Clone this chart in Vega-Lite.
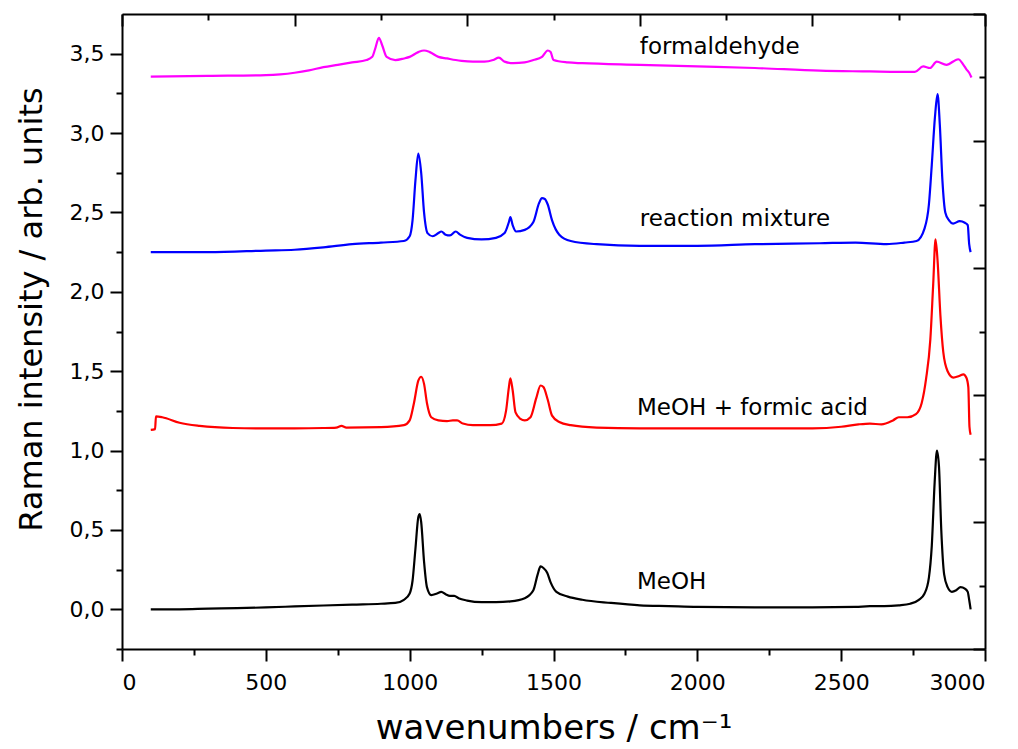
{
  "$schema": "https://vega.github.io/schema/vega-lite/v6.json",
  "width": 863,
  "height": 635,
  "autosize": {"type": "none"},
  "padding": {"left": 122, "top": 14, "right": 33, "bottom": 100},
  "background": "white",
  "config": {
    "view": {"stroke": null},
    "font": "DejaVu Sans",
    "axis": {"domainColor": "black", "tickColor": "black", "labelColor": "black", "titleColor": "black", "domainWidth": 2, "tickWidth": 2, "grid": false, "labelFont": "DejaVu Sans", "titleFont": "DejaVu Sans"}
  },
  "datasets": {
    "spectra": [
      {"s": "MeOH", "wn": 100, "v": 0.0}, {"s": "MeOH", "wn": 200, "v": 0.0}, {"s": "MeOH", "wn": 300, "v": 0.004}, {"s": "MeOH", "wn": 400, "v": 0.007}, {"s": "MeOH", "wn": 500, "v": 0.012}, {"s": "MeOH", "wn": 600, "v": 0.018}, {"s": "MeOH", "wn": 700, "v": 0.024}, {"s": "MeOH", "wn": 800, "v": 0.03}, {"s": "MeOH", "wn": 900, "v": 0.035}, {"s": "MeOH", "wn": 950, "v": 0.04}, {"s": "MeOH", "wn": 980, "v": 0.06}, {"s": "MeOH", "wn": 1000, "v": 0.1}, {"s": "MeOH", "wn": 1010, "v": 0.18}, {"s": "MeOH", "wn": 1020, "v": 0.38}, {"s": "MeOH", "wn": 1030, "v": 0.58}, {"s": "MeOH", "wn": 1035, "v": 0.6}, {"s": "MeOH", "wn": 1040, "v": 0.55}, {"s": "MeOH", "wn": 1050, "v": 0.3}, {"s": "MeOH", "wn": 1060, "v": 0.14}, {"s": "MeOH", "wn": 1075, "v": 0.09}, {"s": "MeOH", "wn": 1095, "v": 0.1}, {"s": "MeOH", "wn": 1110, "v": 0.11}, {"s": "MeOH", "wn": 1125, "v": 0.095}, {"s": "MeOH", "wn": 1140, "v": 0.085}, {"s": "MeOH", "wn": 1155, "v": 0.085}, {"s": "MeOH", "wn": 1170, "v": 0.07}, {"s": "MeOH", "wn": 1200, "v": 0.055}, {"s": "MeOH", "wn": 1250, "v": 0.045}, {"s": "MeOH", "wn": 1300, "v": 0.045}, {"s": "MeOH", "wn": 1350, "v": 0.05}, {"s": "MeOH", "wn": 1400, "v": 0.07}, {"s": "MeOH", "wn": 1430, "v": 0.12}, {"s": "MeOH", "wn": 1445, "v": 0.22}, {"s": "MeOH", "wn": 1455, "v": 0.27}, {"s": "MeOH", "wn": 1465, "v": 0.26}, {"s": "MeOH", "wn": 1478, "v": 0.23}, {"s": "MeOH", "wn": 1490, "v": 0.17}, {"s": "MeOH", "wn": 1510, "v": 0.11}, {"s": "MeOH", "wn": 1550, "v": 0.08}, {"s": "MeOH", "wn": 1600, "v": 0.06}, {"s": "MeOH", "wn": 1700, "v": 0.04}, {"s": "MeOH", "wn": 1800, "v": 0.025}, {"s": "MeOH", "wn": 1900, "v": 0.02}, {"s": "MeOH", "wn": 2000, "v": 0.015}, {"s": "MeOH", "wn": 2200, "v": 0.012}, {"s": "MeOH", "wn": 2400, "v": 0.012}, {"s": "MeOH", "wn": 2550, "v": 0.015}, {"s": "MeOH", "wn": 2600, "v": 0.02}, {"s": "MeOH", "wn": 2650, "v": 0.02}, {"s": "MeOH", "wn": 2700, "v": 0.025}, {"s": "MeOH", "wn": 2740, "v": 0.035}, {"s": "MeOH", "wn": 2770, "v": 0.06}, {"s": "MeOH", "wn": 2790, "v": 0.1}, {"s": "MeOH", "wn": 2805, "v": 0.2}, {"s": "MeOH", "wn": 2815, "v": 0.4}, {"s": "MeOH", "wn": 2825, "v": 0.8}, {"s": "MeOH", "wn": 2833, "v": 1.0}, {"s": "MeOH", "wn": 2840, "v": 0.9}, {"s": "MeOH", "wn": 2848, "v": 0.5}, {"s": "MeOH", "wn": 2858, "v": 0.22}, {"s": "MeOH", "wn": 2870, "v": 0.14}, {"s": "MeOH", "wn": 2885, "v": 0.11}, {"s": "MeOH", "wn": 2900, "v": 0.12}, {"s": "MeOH", "wn": 2915, "v": 0.14}, {"s": "MeOH", "wn": 2930, "v": 0.13}, {"s": "MeOH", "wn": 2940, "v": 0.11}, {"s": "MeOH", "wn": 2945, "v": 0.06}, {"s": "MeOH", "wn": 2950, "v": 0.0},

      {"s": "red", "wn": 100, "v": 1.13}, {"s": "red", "wn": 115, "v": 1.135}, {"s": "red", "wn": 118, "v": 1.215}, {"s": "red", "wn": 140, "v": 1.21}, {"s": "red", "wn": 200, "v": 1.175}, {"s": "red", "wn": 270, "v": 1.155}, {"s": "red", "wn": 385, "v": 1.142}, {"s": "red", "wn": 500, "v": 1.14}, {"s": "red", "wn": 600, "v": 1.14}, {"s": "red", "wn": 700, "v": 1.142}, {"s": "red", "wn": 745, "v": 1.145}, {"s": "red", "wn": 763, "v": 1.155}, {"s": "red", "wn": 780, "v": 1.145}, {"s": "red", "wn": 900, "v": 1.148}, {"s": "red", "wn": 980, "v": 1.16}, {"s": "red", "wn": 1000, "v": 1.19}, {"s": "red", "wn": 1015, "v": 1.3}, {"s": "red", "wn": 1030, "v": 1.44}, {"s": "red", "wn": 1040, "v": 1.465}, {"s": "red", "wn": 1050, "v": 1.42}, {"s": "red", "wn": 1060, "v": 1.3}, {"s": "red", "wn": 1075, "v": 1.21}, {"s": "red", "wn": 1100, "v": 1.19}, {"s": "red", "wn": 1130, "v": 1.185}, {"s": "red", "wn": 1150, "v": 1.19}, {"s": "red", "wn": 1165, "v": 1.19}, {"s": "red", "wn": 1185, "v": 1.17}, {"s": "red", "wn": 1220, "v": 1.16}, {"s": "red", "wn": 1280, "v": 1.16}, {"s": "red", "wn": 1320, "v": 1.17}, {"s": "red", "wn": 1335, "v": 1.25}, {"s": "red", "wn": 1345, "v": 1.4}, {"s": "red", "wn": 1350, "v": 1.455}, {"s": "red", "wn": 1358, "v": 1.38}, {"s": "red", "wn": 1368, "v": 1.24}, {"s": "red", "wn": 1385, "v": 1.2}, {"s": "red", "wn": 1400, "v": 1.19}, {"s": "red", "wn": 1420, "v": 1.21}, {"s": "red", "wn": 1440, "v": 1.33}, {"s": "red", "wn": 1455, "v": 1.41}, {"s": "red", "wn": 1465, "v": 1.4}, {"s": "red", "wn": 1480, "v": 1.32}, {"s": "red", "wn": 1495, "v": 1.22}, {"s": "red", "wn": 1520, "v": 1.18}, {"s": "red", "wn": 1560, "v": 1.16}, {"s": "red", "wn": 1650, "v": 1.145}, {"s": "red", "wn": 1800, "v": 1.14}, {"s": "red", "wn": 2000, "v": 1.14}, {"s": "red", "wn": 2200, "v": 1.14}, {"s": "red", "wn": 2400, "v": 1.14}, {"s": "red", "wn": 2500, "v": 1.15}, {"s": "red", "wn": 2560, "v": 1.165}, {"s": "red", "wn": 2600, "v": 1.17}, {"s": "red", "wn": 2640, "v": 1.165}, {"s": "red", "wn": 2680, "v": 1.19}, {"s": "red", "wn": 2700, "v": 1.21}, {"s": "red", "wn": 2730, "v": 1.21}, {"s": "red", "wn": 2760, "v": 1.23}, {"s": "red", "wn": 2780, "v": 1.3}, {"s": "red", "wn": 2795, "v": 1.45}, {"s": "red", "wn": 2810, "v": 1.7}, {"s": "red", "wn": 2820, "v": 2.05}, {"s": "red", "wn": 2828, "v": 2.33}, {"s": "red", "wn": 2835, "v": 2.2}, {"s": "red", "wn": 2845, "v": 1.85}, {"s": "red", "wn": 2855, "v": 1.62}, {"s": "red", "wn": 2870, "v": 1.5}, {"s": "red", "wn": 2890, "v": 1.46}, {"s": "red", "wn": 2910, "v": 1.47}, {"s": "red", "wn": 2925, "v": 1.48}, {"s": "red", "wn": 2935, "v": 1.46}, {"s": "red", "wn": 2942, "v": 1.4}, {"s": "red", "wn": 2946, "v": 1.15}, {"s": "red", "wn": 2950, "v": 1.1},

      {"s": "blue", "wn": 100, "v": 2.25}, {"s": "blue", "wn": 300, "v": 2.25}, {"s": "blue", "wn": 500, "v": 2.26}, {"s": "blue", "wn": 600, "v": 2.265}, {"s": "blue", "wn": 700, "v": 2.28}, {"s": "blue", "wn": 800, "v": 2.3}, {"s": "blue", "wn": 900, "v": 2.31}, {"s": "blue", "wn": 980, "v": 2.32}, {"s": "blue", "wn": 1000, "v": 2.35}, {"s": "blue", "wn": 1010, "v": 2.45}, {"s": "blue", "wn": 1020, "v": 2.7}, {"s": "blue", "wn": 1030, "v": 2.87}, {"s": "blue", "wn": 1040, "v": 2.75}, {"s": "blue", "wn": 1050, "v": 2.5}, {"s": "blue", "wn": 1062, "v": 2.37}, {"s": "blue", "wn": 1080, "v": 2.35}, {"s": "blue", "wn": 1100, "v": 2.37}, {"s": "blue", "wn": 1110, "v": 2.38}, {"s": "blue", "wn": 1125, "v": 2.36}, {"s": "blue", "wn": 1140, "v": 2.355}, {"s": "blue", "wn": 1160, "v": 2.38}, {"s": "blue", "wn": 1175, "v": 2.36}, {"s": "blue", "wn": 1200, "v": 2.34}, {"s": "blue", "wn": 1250, "v": 2.33}, {"s": "blue", "wn": 1300, "v": 2.34}, {"s": "blue", "wn": 1330, "v": 2.37}, {"s": "blue", "wn": 1345, "v": 2.44}, {"s": "blue", "wn": 1350, "v": 2.47}, {"s": "blue", "wn": 1358, "v": 2.42}, {"s": "blue", "wn": 1370, "v": 2.38}, {"s": "blue", "wn": 1400, "v": 2.39}, {"s": "blue", "wn": 1430, "v": 2.44}, {"s": "blue", "wn": 1450, "v": 2.56}, {"s": "blue", "wn": 1460, "v": 2.59}, {"s": "blue", "wn": 1470, "v": 2.585}, {"s": "blue", "wn": 1480, "v": 2.55}, {"s": "blue", "wn": 1495, "v": 2.45}, {"s": "blue", "wn": 1520, "v": 2.36}, {"s": "blue", "wn": 1560, "v": 2.32}, {"s": "blue", "wn": 1650, "v": 2.3}, {"s": "blue", "wn": 1800, "v": 2.29}, {"s": "blue", "wn": 2000, "v": 2.29}, {"s": "blue", "wn": 2200, "v": 2.3}, {"s": "blue", "wn": 2426, "v": 2.306}, {"s": "blue", "wn": 2550, "v": 2.31}, {"s": "blue", "wn": 2658, "v": 2.3}, {"s": "blue", "wn": 2720, "v": 2.31}, {"s": "blue", "wn": 2762, "v": 2.32}, {"s": "blue", "wn": 2790, "v": 2.4}, {"s": "blue", "wn": 2805, "v": 2.55}, {"s": "blue", "wn": 2815, "v": 2.8}, {"s": "blue", "wn": 2826, "v": 3.1}, {"s": "blue", "wn": 2835, "v": 3.245}, {"s": "blue", "wn": 2843, "v": 3.05}, {"s": "blue", "wn": 2852, "v": 2.7}, {"s": "blue", "wn": 2862, "v": 2.5}, {"s": "blue", "wn": 2875, "v": 2.45}, {"s": "blue", "wn": 2889, "v": 2.43}, {"s": "blue", "wn": 2912, "v": 2.445}, {"s": "blue", "wn": 2930, "v": 2.435}, {"s": "blue", "wn": 2940, "v": 2.42}, {"s": "blue", "wn": 2945, "v": 2.3}, {"s": "blue", "wn": 2950, "v": 2.25},

      {"s": "pink", "wn": 100, "v": 3.355}, {"s": "pink", "wn": 300, "v": 3.36}, {"s": "pink", "wn": 500, "v": 3.365}, {"s": "pink", "wn": 550, "v": 3.37}, {"s": "pink", "wn": 600, "v": 3.38}, {"s": "pink", "wn": 650, "v": 3.395}, {"s": "pink", "wn": 700, "v": 3.415}, {"s": "pink", "wn": 750, "v": 3.43}, {"s": "pink", "wn": 800, "v": 3.445}, {"s": "pink", "wn": 850, "v": 3.46}, {"s": "pink", "wn": 870, "v": 3.48}, {"s": "pink", "wn": 880, "v": 3.53}, {"s": "pink", "wn": 893, "v": 3.6}, {"s": "pink", "wn": 905, "v": 3.55}, {"s": "pink", "wn": 920, "v": 3.48}, {"s": "pink", "wn": 950, "v": 3.46}, {"s": "pink", "wn": 980, "v": 3.47}, {"s": "pink", "wn": 1000, "v": 3.48}, {"s": "pink", "wn": 1030, "v": 3.51}, {"s": "pink", "wn": 1050, "v": 3.52}, {"s": "pink", "wn": 1070, "v": 3.51}, {"s": "pink", "wn": 1100, "v": 3.48}, {"s": "pink", "wn": 1130, "v": 3.47}, {"s": "pink", "wn": 1160, "v": 3.46}, {"s": "pink", "wn": 1180, "v": 3.455}, {"s": "pink", "wn": 1220, "v": 3.45}, {"s": "pink", "wn": 1260, "v": 3.45}, {"s": "pink", "wn": 1290, "v": 3.46}, {"s": "pink", "wn": 1310, "v": 3.475}, {"s": "pink", "wn": 1330, "v": 3.45}, {"s": "pink", "wn": 1360, "v": 3.44}, {"s": "pink", "wn": 1400, "v": 3.445}, {"s": "pink", "wn": 1430, "v": 3.46}, {"s": "pink", "wn": 1460, "v": 3.48}, {"s": "pink", "wn": 1480, "v": 3.52}, {"s": "pink", "wn": 1490, "v": 3.51}, {"s": "pink", "wn": 1500, "v": 3.46}, {"s": "pink", "wn": 1550, "v": 3.445}, {"s": "pink", "wn": 1600, "v": 3.44}, {"s": "pink", "wn": 1800, "v": 3.43}, {"s": "pink", "wn": 2000, "v": 3.42}, {"s": "pink", "wn": 2200, "v": 3.41}, {"s": "pink", "wn": 2426, "v": 3.393}, {"s": "pink", "wn": 2600, "v": 3.388}, {"s": "pink", "wn": 2700, "v": 3.385}, {"s": "pink", "wn": 2756, "v": 3.385}, {"s": "pink", "wn": 2785, "v": 3.42}, {"s": "pink", "wn": 2809, "v": 3.41}, {"s": "pink", "wn": 2832, "v": 3.45}, {"s": "pink", "wn": 2866, "v": 3.43}, {"s": "pink", "wn": 2907, "v": 3.465}, {"s": "pink", "wn": 2925, "v": 3.43}, {"s": "pink", "wn": 2936, "v": 3.4}, {"s": "pink", "wn": 2945, "v": 3.38}, {"s": "pink", "wn": 2953, "v": 3.35}
    ],
    "labels": [
      {"label": "formaldehyde", "x": 1800, "y": 3.54},
      {"label": "reaction mixture", "x": 1800, "y": 2.46},
      {"label": "MeOH + formic acid", "x": 1790, "y": 1.27},
      {"label": "MeOH", "x": 1790, "y": 0.17}
    ]
  },
  "resolve": {"axis": {"x": "independent", "y": "independent"}},
  "layer": [
    {
      "data": {"name": "spectra"},
      "mark": {"type": "line", "strokeWidth": 2.2, "interpolate": "monotone"},
      "encoding": {
        "x": {"field": "wn", "type": "quantitative", "scale": {"domain": [0, 3000], "nice": false, "zero": false},
          "axis": {"orient": "bottom", "values": [0, 500, 1000, 1500, 2000, 2500, 3000], "format": "d", "tickSize": 12, "labelFontSize": 22, "labelPadding": 11, "title": "wavenumbers / cm⁻¹", "titleFontSize": 34, "titleFontWeight": "normal", "titleY": 62, "titleBaseline": "top"}},
        "y": {"field": "v", "type": "quantitative", "scale": {"domain": [-0.25, 3.75], "nice": false, "zero": false},
          "axis": {"orient": "left", "values": [0, 0.5, 1, 1.5, 2, 2.5, 3, 3.5], "labelExpr": "replace(format(datum.value, '.1f'), '.', ',')", "tickSize": 12, "labelFontSize": 22, "labelPadding": 6, "title": "Raman intensity / arb. units", "titleFontSize": 32, "titleFontWeight": "normal", "titleX": -74, "titleY": 295, "titleBaseline": "bottom", "titleAngle": 270}},
        "color": {"field": "s", "type": "nominal", "scale": {"domain": ["MeOH", "red", "blue", "pink"], "range": ["#000000", "#ff0000", "#0000ff", "#ff00ff"]}, "legend": null}
      }
    },
    {
      "data": {"name": "labels"},
      "mark": {"type": "text", "align": "left", "baseline": "middle", "fontSize": 23, "font": "DejaVu Sans", "color": "black"},
      "encoding": {
        "x": {"field": "x", "type": "quantitative", "scale": {"domain": [0, 3000], "nice": false, "zero": false},
          "axis": {"orient": "bottom", "values": [250, 750, 1250, 1750, 2250, 2750], "tickSize": 6, "labels": false, "domain": false, "title": null}},
        "y": {"field": "y", "type": "quantitative", "scale": {"domain": [-0.25, 3.75], "nice": false, "zero": false},
          "axis": {"orient": "left", "values": [-0.25, 0.25, 0.75, 1.25, 1.75, 2.25, 2.75, 3.25], "tickSize": 6, "labels": false, "domain": false, "title": null}},
        "text": {"field": "label"}
      }
    },
    {
      "data": {"name": "labels"},
      "mark": {"type": "text", "opacity": 0},
      "encoding": {
        "x": {"field": "x", "type": "quantitative", "scale": {"domain": [0, 3000], "nice": false, "zero": false},
          "axis": {"orient": "top", "values": [0, 600, 1200, 1800, 2400, 3000], "tickSize": -12, "labels": false, "domain": true, "title": null}},
        "y": {"field": "y", "type": "quantitative", "scale": {"domain": [-0.25, 3.75], "nice": false, "zero": false},
          "axis": {"orient": "right", "values": [-0.25, 0.55, 1.35, 2.15, 2.95, 3.75], "tickSize": -12, "labels": false, "domain": true, "title": null}},
        "text": {"field": "label"}
      }
    },
    {
      "data": {"name": "labels"},
      "mark": {"type": "text", "opacity": 0},
      "encoding": {
        "x": {"field": "x", "type": "quantitative", "scale": {"domain": [0, 3000], "nice": false, "zero": false},
          "axis": {"orient": "top", "values": [300, 900, 1500, 2100, 2700], "tickSize": -6, "labels": false, "domain": false, "title": null}},
        "y": {"field": "y", "type": "quantitative", "scale": {"domain": [-0.25, 3.75], "nice": false, "zero": false},
          "axis": {"orient": "right", "values": [0.15, 0.95, 1.75, 2.55, 3.35], "tickSize": -6, "labels": false, "domain": false, "title": null}},
        "text": {"field": "label"}
      }
    }
  ]
}
